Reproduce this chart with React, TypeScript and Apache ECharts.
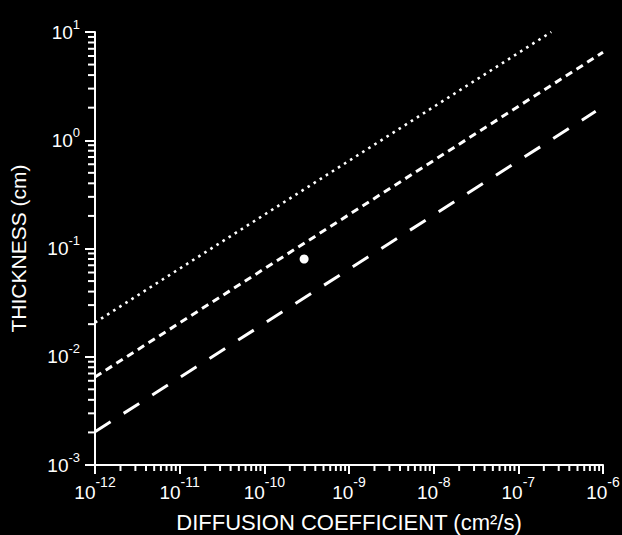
import React, { useEffect, useRef } from "react";
import * as echarts from "echarts";

// ---- data ----
const dottedLine: [number, number][] = [
  [1e-12, 0.0207],
  [2.45e-7, 10],
];
const shortDashLine: [number, number][] = [
  [1e-12, 0.0065],
  [1e-6, 6.5],
];
const longDashLine: [number, number][] = [
  [1e-12, 0.00203],
  [8.2e-7, 1.85],
];
const measuredPoint: [number, number][] = [[2.95e-10, 0.08]];

// axis ranges / ticks
const xMin = 1e-12;
const xMax = 1e-6;
const yMin = 1e-3;
const yMax = 10;
const xDecades = [-12, -11, -10, -9, -8, -7];
const yDecades = [-3, -2, -1, 0];
const minorMantissas = [2, 3, 4, 5, 6, 7, 8, 9];

const xMinorTicks: [number, number][] = [];
xDecades.forEach((d) =>
  minorMantissas.forEach((m) => xMinorTicks.push([m * Math.pow(10, d), yMin]))
);
const yMinorTicks: [number, number][] = [];
yDecades.forEach((d) =>
  minorMantissas.forEach((m) => yMinorTicks.push([xMin, m * Math.pow(10, d)]))
);

const FONT = "Liberation Sans";

const expLabel = (v: number) => {
  const e = Math.round(Math.log10(v));
  return `{b|10}{e|${e}}`;
};

export default function App() {
  const ref = useRef<HTMLDivElement>(null);
  useEffect(() => {
    if (!ref.current) return;
    document.body.style.background = "#000";
    const chart = echarts.init(ref.current, undefined, { renderer: "svg" });
    chart.setOption({
      animation: false,
      backgroundColor: "#000",
      grid: {
        left: 95,
        right: 19,
        top: 32,
        bottom: 70,
        containLabel: false,
        outerBoundsMode: "none",
      },
      xAxis: {
        type: "log",
        logBase: 10,
        min: xMin,
        max: xMax,
        name: "DIFFUSION COEFFICIENT (cm²/s)",
        nameLocation: "middle",
        nameGap: 46,
        nameTextStyle: { color: "#fff", fontFamily: FONT, fontSize: 22 },
        axisLine: { lineStyle: { color: "#fff", width: 2 } },
        axisTick: { show: true, inside: false, length: 9, lineStyle: { color: "#fff", width: 2 } },
        minorTick: { show: false },
        splitLine: { show: false },
        axisLabel: {
          color: "#fff",
          margin: 10,
          fontFamily: FONT,
          fontSize: 19,
          formatter: expLabel,
          rich: {
            b: { fontFamily: FONT, fontSize: 19, color: "#fff", padding: [8, 0, 0, 0], verticalAlign: "bottom" },
            e: { fontFamily: FONT, fontSize: 14, lineHeight: 14, color: "#fff", verticalAlign: "top" },
          },
        },
      },
      yAxis: {
        type: "log",
        logBase: 10,
        min: yMin,
        max: yMax,
        name: "THICKNESS (cm)",
        nameLocation: "middle",
        nameGap: 66,
        nameRotate: 90,
        nameTextStyle: { color: "#fff", fontFamily: FONT, fontSize: 21 },
        axisLine: { show: true, lineStyle: { color: "#fff", width: 2 } },
        axisTick: { show: true, inside: false, length: 10, lineStyle: { color: "#fff", width: 2 } },
        minorTick: { show: false },
        splitLine: { show: false },
        axisLabel: {
          color: "#fff",
          margin: 15,
          align: "right",
          fontFamily: FONT,
          fontSize: 19,
          formatter: expLabel,
          rich: {
            b: { fontFamily: FONT, fontSize: 19, color: "#fff", padding: [5, 0, 5, 0], verticalAlign: "bottom" },
            e: { fontFamily: FONT, fontSize: 13, lineHeight: 13, color: "#fff", verticalAlign: "top" },
          },
        },
      },
      series: [
        {
          type: "line",
          data: dottedLine,
          symbol: "none",
          lineStyle: { color: "#fff", width: 2.6, type: [2.6, 4.6], cap: "butt" },
        },
        {
          type: "line",
          data: shortDashLine,
          symbol: "none",
          lineStyle: { color: "#fff", width: 3, type: [7.5, 5.2], cap: "butt" },
        },
        {
          type: "line",
          data: longDashLine,
          symbol: "none",
          lineStyle: { color: "#fff", width: 3, type: [18.5, 15.5], cap: "butt" },
        },
        {
          type: "scatter",
          data: measuredPoint,
          symbol: "circle",
          symbolSize: 9,
          itemStyle: { color: "#fff", opacity: 1 },
        },
        {
          type: "custom",
          clip: false,
          data: xMinorTicks,
          renderItem: (params: any, api: any) => {
            const p = api.coord([api.value(0), api.value(1)]);
            return {
              type: "line",
              shape: { x1: p[0], y1: p[1], x2: p[0], y2: p[1] + 6 },
              style: { stroke: "#fff", lineWidth: 2 },
            };
          },
        },
        {
          type: "custom",
          clip: false,
          data: yMinorTicks,
          renderItem: (params: any, api: any) => {
            const p = api.coord([api.value(0), api.value(1)]);
            return {
              type: "line",
              shape: { x1: p[0], y1: p[1], x2: p[0] - 7, y2: p[1] },
              style: { stroke: "#fff", lineWidth: 2 },
            };
          },
        },
      ],
    });
    return () => chart.dispose();
  }, []);
  return (
    <div
      ref={ref}
      style={{ position: "fixed", left: 0, top: 0, width: 622, height: 535, background: "#000" }}
    />
  );
}
